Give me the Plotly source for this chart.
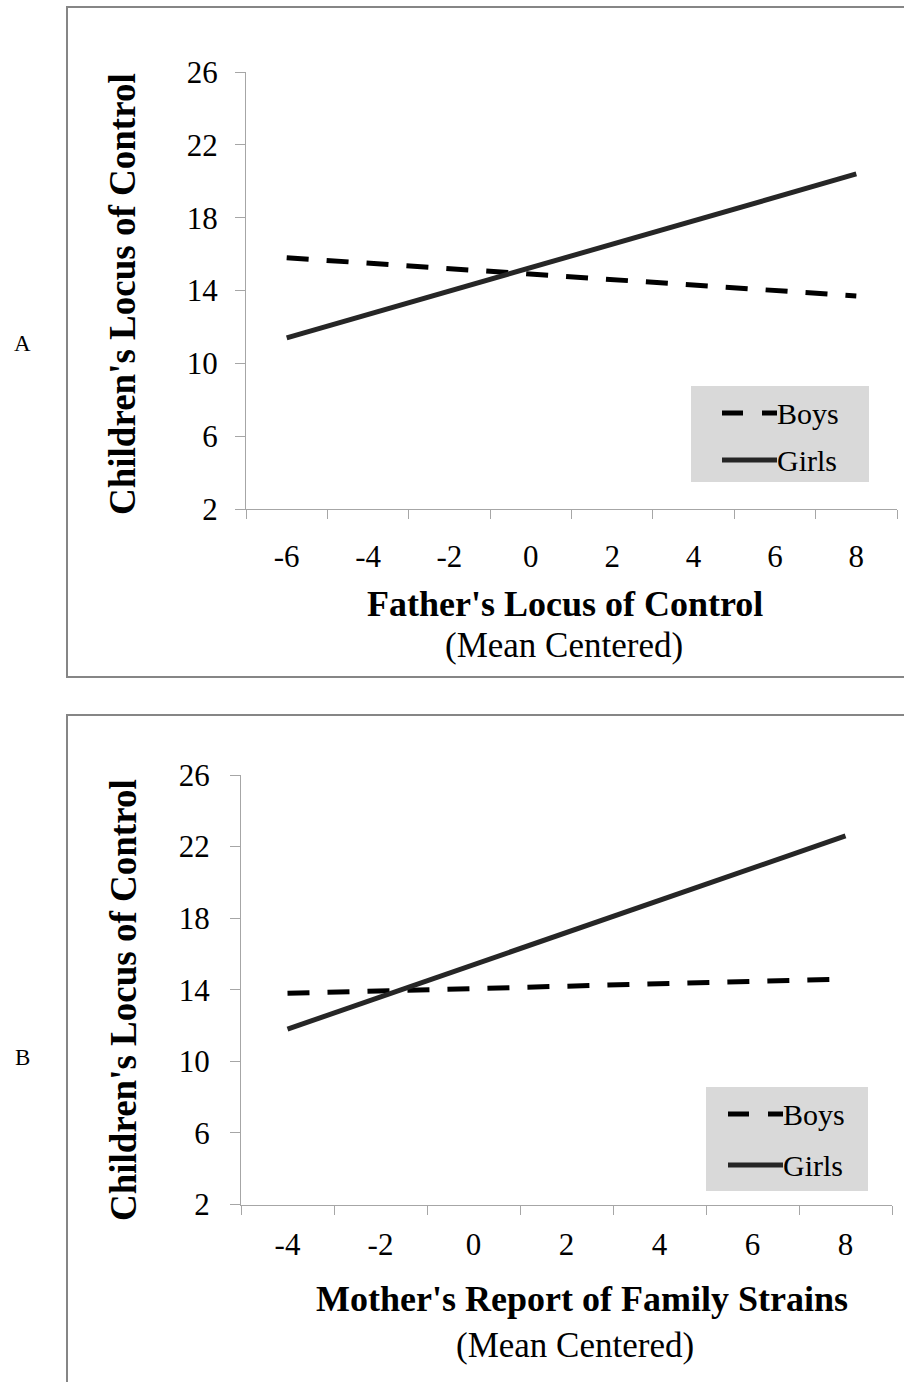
import plotly.graph_objects as go

# ---------------- data ----------------
cats_a = ["-6", "-4", "-2", "0", "2", "4", "6", "8"]
boys_a = [15.80, 15.50, 15.20, 14.90, 14.60, 14.30, 14.00, 13.70]
girls_a = [11.40, 12.69, 13.97, 15.26, 16.54, 17.83, 19.11, 20.40]

cats_b = ["-4", "-2", "0", "2", "4", "6", "8"]
boys_b = [13.80, 13.93, 14.07, 14.20, 14.33, 14.47, 14.60]
girls_b = [11.80, 13.60, 15.40, 17.20, 19.00, 20.80, 22.60]

y_ticks = [2, 6, 10, 14, 18, 22, 26]
series_names = ["Boys", "Girls"]

W, H = 904, 1382
FONT = "Liberation Serif"
AXIS_COL = "#a6a6a6"


def px(x):
    return x / W


def py(y):
    return 1 - y / H


fig = go.Figure()

fig.add_trace(go.Scatter(x=cats_a, y=boys_a, mode="lines", name=series_names[0],
                         line=dict(color="#000000", width=5, dash="22px,18px"),
                         xaxis="x", yaxis="y", showlegend=False))
fig.add_trace(go.Scatter(x=cats_a, y=girls_a, mode="lines", name=series_names[1],
                         line=dict(color="#262626", width=5),
                         xaxis="x", yaxis="y", showlegend=False))
fig.add_trace(go.Scatter(x=cats_b, y=boys_b, mode="lines", name=series_names[0],
                         line=dict(color="#000000", width=5, dash="22px,18px"),
                         xaxis="x2", yaxis="y2", showlegend=False))
fig.add_trace(go.Scatter(x=cats_b, y=girls_b, mode="lines", name=series_names[1],
                         line=dict(color="#262626", width=5),
                         xaxis="x2", yaxis="y2", showlegend=False))


def xaxis_cfg(cats, x0, x1, anchor, standoff):
    return dict(type="category", categoryorder="array", categoryarray=cats,
                range=[-0.5, len(cats) - 0.5], domain=[px(x0), px(x1)],
                tickson="boundaries", ticks="outside", ticklen=9,
                tickcolor=AXIS_COL, tickwidth=1, showline=True,
                linecolor=AXIS_COL, linewidth=1, showgrid=False, zeroline=False,
                tickfont=dict(family=FONT, size=31, color="#000000"),
                ticklabelstandoff=standoff, anchor=anchor, fixedrange=True)


def yaxis_cfg(y_top, y_bot, anchor, standoff):
    return dict(range=[2, 26], tickvals=y_ticks, domain=[py(y_bot), py(y_top)],
                ticks="outside", ticklen=10, tickcolor=AXIS_COL, tickwidth=1,
                showline=True, linecolor=AXIS_COL, linewidth=1, showgrid=False,
                zeroline=False, tickfont=dict(family=FONT, size=31, color="#000000"),
                ticklabelstandoff=standoff, anchor=anchor, fixedrange=True)


fig.update_layout(
    width=W, height=H, margin=dict(l=0, r=0, t=0, b=0, pad=0, autoexpand=False),
    paper_bgcolor="white", plot_bgcolor="white", showlegend=False,
    xaxis=xaxis_cfg(cats_a, 246, 897, "y", 20),
    yaxis=yaxis_cfg(72, 509, "x", 11),
    xaxis2=xaxis_cfg(cats_b, 241, 892, "y2", 12),
    yaxis2=yaxis_cfg(775, 1204.5, "x2", 14),
)

shapes = []
annotations = []

# outer panel boxes
for (top, bot) in [(7, 677), (715, 1395)]:
    shapes.append(dict(type="rect", xref="paper", yref="paper",
                       x0=px(67), x1=px(915), y0=py(bot), y1=py(top),
                       line=dict(color="#868686", width=2), fillcolor="rgba(0,0,0,0)",
                       layer="below"))

# legends (manual, Excel-like)
for (bx0, by0, bx1, by1, ly_boys, ly_girls, sx0) in [
        (691, 386, 869, 482, 413, 460, 722),
        (706, 1087, 868, 1191, 1114, 1165, 728)]:
    shapes.append(dict(type="rect", xref="paper", yref="paper",
                       x0=px(bx0), x1=px(bx1), y0=py(by1), y1=py(by0),
                       line=dict(width=0), fillcolor="#d9d9d9", layer="below"))
    sx1 = sx0 + 55
    shapes.append(dict(type="line", xref="paper", yref="paper",
                       x0=px(sx0), x1=px(sx1), y0=py(ly_boys), y1=py(ly_boys),
                       line=dict(color="#000000", width=5, dash="21px,19px")))
    shapes.append(dict(type="line", xref="paper", yref="paper",
                       x0=px(sx0), x1=px(sx1), y0=py(ly_girls), y1=py(ly_girls),
                       line=dict(color="#262626", width=5)))
    for name, ly in zip(series_names, [ly_boys, ly_girls]):
        annotations.append(dict(text=name, xref="paper", yref="paper",
                                x=px(sx1 - 2), y=py(ly), xanchor="left", yanchor="middle",
                                showarrow=False,
                                font=dict(family=FONT, size=30, color="#000000")))

# axis titles
ytitle = "<b>Children's Locus of Control</b>"
for (cx, cy) in [(123, 294), (123, 1000)]:
    annotations.append(dict(text=ytitle, xref="paper", yref="paper", x=px(cx), y=py(cy),
                            xanchor="center", yanchor="middle", textangle=-90,
                            showarrow=False,
                            font=dict(family=FONT, size=37, color="#000000")))

for (t, cx, cy1, cx2, cy2) in [
        ("Father's Locus of Control", 565, 604, 564, 645),
        ("Mother's Report of Family Strains", 582, 1299, 575, 1345)]:
    annotations.append(dict(text="<b>" + t + "</b>", xref="paper", yref="paper",
                            x=px(cx), y=py(cy1), xanchor="center", yanchor="middle",
                            showarrow=False,
                            font=dict(family=FONT, size=36, color="#000000")))
    annotations.append(dict(text="(Mean Centered)", xref="paper", yref="paper",
                            x=px(cx2), y=py(cy2), xanchor="center", yanchor="middle",
                            showarrow=False,
                            font=dict(family=FONT, size=35, color="#000000")))

# panel letters
for (lab, cy) in [("A", 344), ("B", 1057)]:
    annotations.append(dict(text=lab, xref="paper", yref="paper", x=px(22), y=py(cy),
                            xanchor="center", yanchor="middle", showarrow=False,
                            font=dict(family=FONT, size=23, color="#000000")))

fig.update_layout(shapes=shapes, annotations=annotations)
fig.write_html("out.html", config={"displayModeBar": False},
               post_script="document.body.style.margin='0';")
